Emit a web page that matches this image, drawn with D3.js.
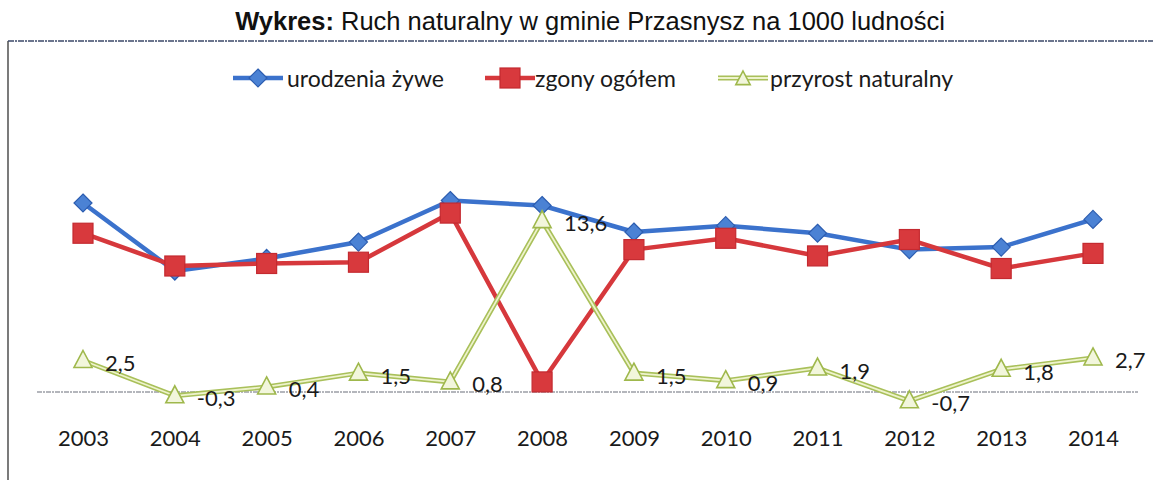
<!DOCTYPE html>
<html>
<head>
<meta charset="utf-8">
<script src="https://cdn.jsdelivr.net/npm/d3@7"></script>
<style>
  body { margin: 0; background: #fff; }
  svg { display: block; }
</style>
</head>
<body>
<svg width="1153" height="480"></svg>
<script>
// dane: ruch naturalny w gminie Przasnysz (na 1000 ludnosci)
var years = ["2003", "2004", "2005", "2006", "2007", "2008", "2009", "2010", "2011", "2012", "2013", "2014"];
var urodzenia = [15.0, 9.6, 10.6, 11.9, 15.2, 14.8, 12.7, 13.2, 12.6, 11.3, 11.5, 13.7];
var zgony = [12.6, 10.0, 10.2, 10.3, 14.2, 0.8, 11.3, 12.2, 10.8, 12.1, 9.8, 11.0];
var przyrost = [2.5, -0.3, 0.4, 1.5, 0.8, 13.6, 1.5, 0.9, 1.9, -0.7, 1.8, 2.7];
var seriesNames = ["urodzenia żywe", "zgony ogółem", "przyrost naturalny"];

var svg = d3.select("svg"),
    width = +svg.attr("width"),
    height = +svg.attr("height");

var x = d3.scalePoint()
    .domain(years)
    .range([83, 1093]);

var y = d3.scaleLinear()
    .domain([-1, 16])
    .range([404.6, 190.4]);

var labelFont = "Lato, 'Open Sans', sans-serif";

// ramka wykresu (tylko lewa i gorna krawedz widoczna na skanie)
svg.append("line")
    .attr("x1", 8).attr("x2", 8)
    .attr("y1", 41).attr("y2", height)
    .attr("stroke", "#333").attr("stroke-width", 1.3);
svg.append("line")
    .attr("x1", 8).attr("x2", width)
    .attr("y1", 41).attr("y2", 41)
    .attr("stroke", "#3d4a6a").attr("stroke-width", 1.4)
    .attr("stroke-dasharray", "6,1,2,1");

// tytul
var title = svg.append("text")
    .attr("x", 590)
    .attr("y", 30)
    .attr("text-anchor", "middle")
    .style("font-family", "'Liberation Sans', Arial, sans-serif")
    .style("font-size", "25.5px")
    .attr("fill", "#111");
title.append("tspan").style("font-weight", "bold").text("Wykres:");
title.append("tspan").text(" Ruch naturalny w gminie Przasnysz na 1000 ludności");

// os X
var xAxis = svg.append("g")
    .attr("class", "x axis")
    .attr("transform", "translate(0," + y(0) + ")")
    .call(d3.axisBottom(x).tickSize(0).tickPadding(38));
xAxis.select(".domain")
    .attr("d", "M37,0H1138")
    .attr("stroke", "#6a6f7a")
    .attr("stroke-width", 1.2)
    .attr("stroke-dasharray", "5,1,2,1");
xAxis.selectAll("text")
    .style("font-family", labelFont)
    .style("font-size", "22px")
    .attr("fill", "#1a1a1a");

// generatory
var line = d3.line()
    .x(function(d, i) { return x(years[i]); })
    .y(function(d) { return y(d); });

function diamond(g, cx, cy) {
    g.append("path")
        .attr("d", "M" + cx + "," + (cy - 9) + "L" + (cx + 9) + "," + cy + "L" + cx + "," + (cy + 9) + "L" + (cx - 9) + "," + cy + "Z")
        .attr("fill", "#4b82d4")
        .attr("stroke", "#2c5db0")
        .attr("stroke-width", 1.2);
}
function square(g, cx, cy) {
    g.append("rect")
        .attr("x", cx - 10).attr("y", cy - 10)
        .attr("width", 20).attr("height", 20)
        .attr("fill", "#d8393d")
        .attr("stroke", "#c42a30")
        .attr("stroke-width", 1.2);
}
function triangle(g, cx, cy, s) {
    s = s || 1;
    g.append("path")
        .attr("d", "M" + cx + "," + (cy - 10 * s) + "L" + (cx + 9 * s) + "," + (cy + 7 * s) + "L" + (cx - 9 * s) + "," + (cy + 7 * s) + "Z")
        .attr("fill", "#f2f6dc")
        .attr("stroke", "#9fb84c")
        .attr("stroke-width", 1.6);
}

// urodzenia zywe
var gBlue = svg.append("g");
gBlue.append("path")
    .datum(urodzenia)
    .attr("d", line)
    .attr("fill", "none")
    .attr("stroke", "#3b72cc")
    .attr("stroke-width", 4.5)
    .attr("stroke-linejoin", "round");
urodzenia.forEach(function(d, i) { diamond(gBlue, x(years[i]), y(d)); });

// zgony ogolem
var gRed = svg.append("g");
gRed.append("path")
    .datum(zgony)
    .attr("d", line)
    .attr("fill", "none")
    .attr("stroke", "#d6383c")
    .attr("stroke-width", 4.5)
    .attr("stroke-linejoin", "round");
zgony.forEach(function(d, i) { square(gRed, x(years[i]), y(d)); });

// przyrost naturalny (podwojna linia jak na skanie)
var gGreen = svg.append("g");
gGreen.append("path")
    .datum(przyrost)
    .attr("d", line)
    .attr("fill", "none")
    .attr("stroke", "#a9c05a")
    .attr("stroke-width", 5)
    .attr("stroke-linejoin", "round");
gGreen.append("path")
    .datum(przyrost)
    .attr("d", line)
    .attr("fill", "none")
    .attr("stroke", "#eef3cc")
    .attr("stroke-width", 1.8)
    .attr("stroke-linejoin", "round");
przyrost.forEach(function(d, i) { triangle(gGreen, x(years[i]), y(d)); });

// etykiety danych
gGreen.selectAll(".lbl")
    .data(przyrost)
    .enter()
    .append("text")
    .attr("class", "lbl")
    .attr("x", function(d, i) { return x(years[i]) + 22; })
    .attr("y", function(d) { return y(d) + 2; })
    .attr("dominant-baseline", "central")
    .style("font-family", labelFont)
    .style("font-size", "22px")
    .attr("fill", "#1a1a1a")
    .text(function(d) { return String(d).replace(".", ","); });

// legenda
var legendY = 78;
var legendItems = [
    { x: 233, tx: 287, draw: function(g, cx) { diamond(g, cx, legendY); }, color: "#3b72cc", name: seriesNames[0] },
    { x: 485, tx: 535, draw: function(g, cx) { square(g, cx, legendY); }, color: "#d6383c", name: seriesNames[1] },
    { x: 718, tx: 770, draw: function(g, cx) { triangle(g, cx, legendY + 1, 0.8); }, color: "#a9c05a", name: seriesNames[2] }
];
var legend = svg.append("g").attr("class", "legend");
legendItems.forEach(function(it, k) {
    var g = legend.append("g");
    g.append("line")
        .attr("x1", it.x).attr("x2", it.x + 50)
        .attr("y1", legendY).attr("y2", legendY)
        .attr("stroke", it.color)
        .attr("stroke-width", k == 2 ? 5 : 4.5);
    if (k == 2) {
        g.append("line")
            .attr("x1", it.x).attr("x2", it.x + 50)
            .attr("y1", legendY).attr("y2", legendY)
            .attr("stroke", "#eef3cc")
            .attr("stroke-width", 1.8);
    }
    it.draw(g, it.x + 25);
    g.append("text")
        .attr("x", it.tx)
        .attr("y", legendY)
        .attr("dominant-baseline", "central")
        .style("font-family", labelFont)
        .style("font-size", "23px")
        .attr("fill", "#1a1a1a")
        .text(it.name);
});
</script>
</body>
</html>
